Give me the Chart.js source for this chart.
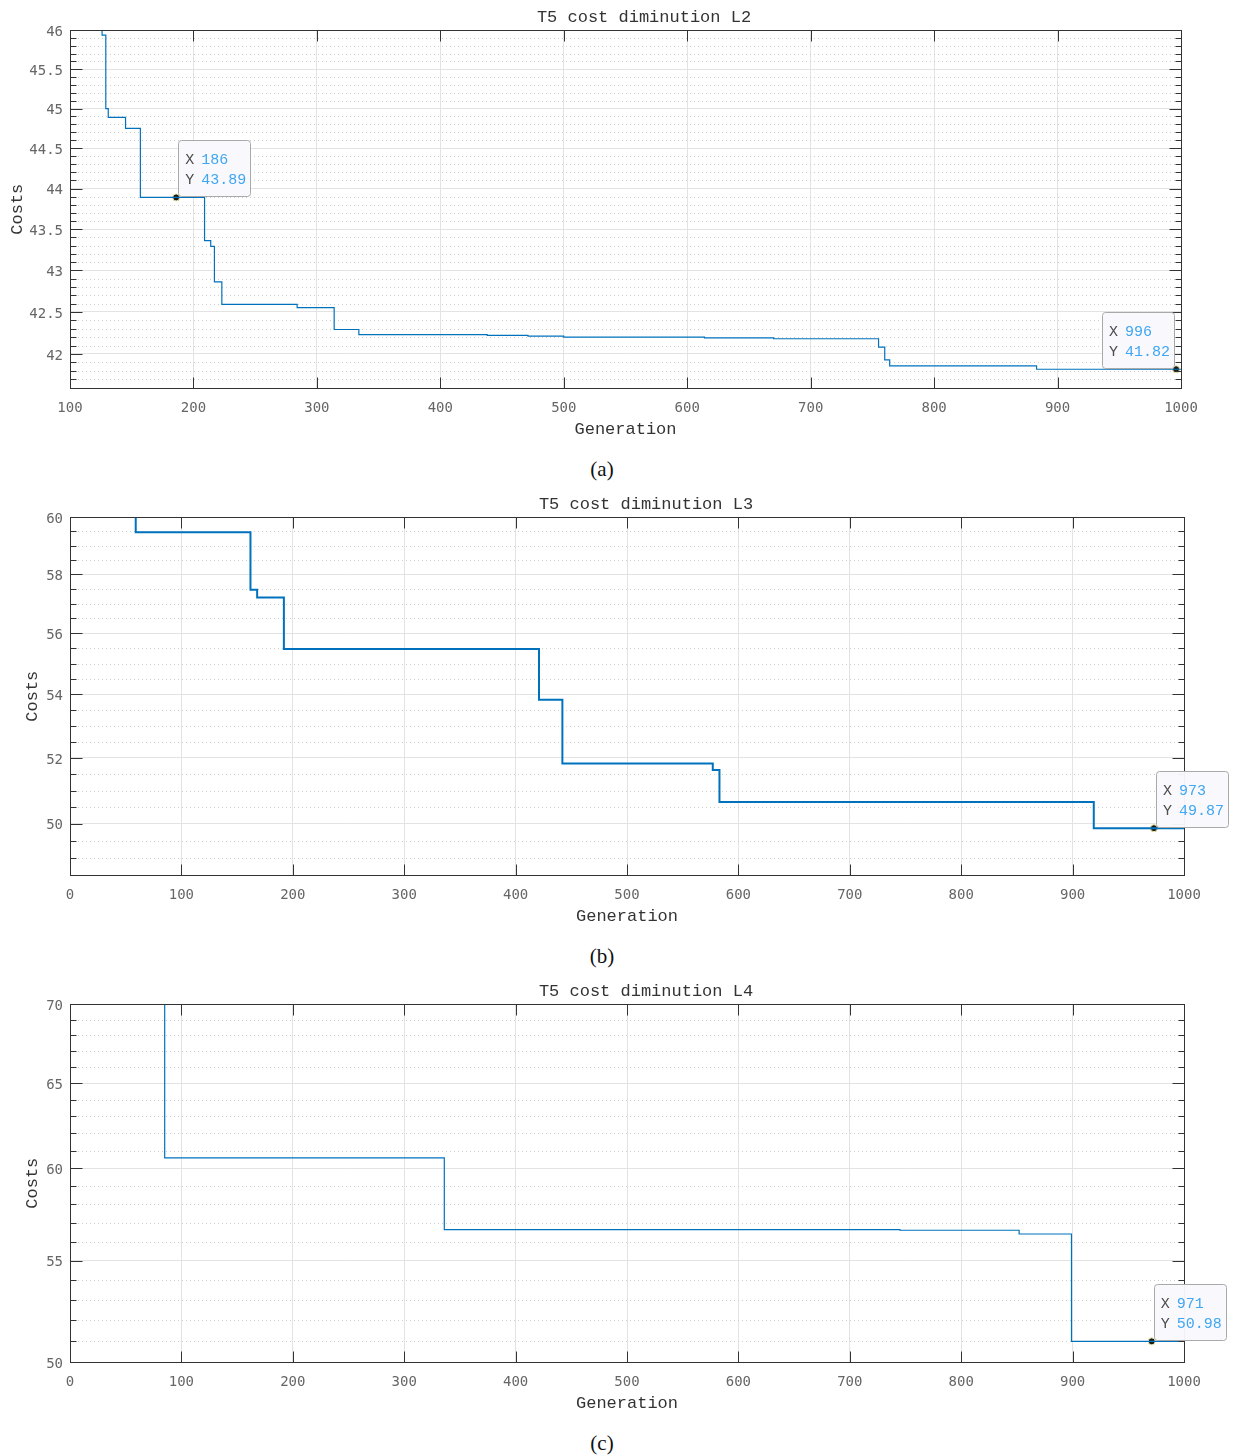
<!DOCTYPE html>
<html>
<head>
<meta charset="utf-8">
<script src="https://cdn.jsdelivr.net/npm/chart.js@4"></script>
<style>
  body { margin: 0; background: #fff; }
  #page { position: relative; width: 1233px; height: 1456px; }
  .plot { position: absolute; left: 0; width: 1233px; height: 450px; }
  .cap { position: absolute; left: 562px; width: 80px; text-align: center;
         font: 21px "Liberation Serif", "Times New Roman", serif; color: #111; line-height: 24px; }
</style>
</head>
<body>
<div id="page">
  <canvas id="chartL2" class="plot" style="top:0px" width="1233" height="450"></canvas>
  <div class="cap" style="top:457px">(a)</div>
  <canvas id="chartL3" class="plot" style="top:487px" width="1233" height="450"></canvas>
  <div class="cap" style="top:944px">(b)</div>
  <canvas id="chartL4" class="plot" style="top:974px" width="1233" height="450"></canvas>
  <div class="cap" style="top:1431px">(c)</div>
</div>
<script>
// best cost per generation (each value holds until the next change)
const genL2  = [125, 126, 129, 131, 145, 157, 209, 214, 217, 223, 284, 314, 334, 438, 471, 500, 614, 670, 755, 760, 764, 883, 1000];
const costL2 = [46.8, 45.94, 45.0, 44.89, 44.75, 43.89, 43.36, 43.29, 42.86, 42.59, 42.55, 42.29, 42.23, 42.22, 42.21, 42.20, 42.19, 42.18, 42.08, 41.93, 41.86, 41.82, 41.82];

const genL3  = [58, 59, 162, 168, 192, 421, 442, 577, 583, 919, 1000];
const costL3 = [60.5, 59.47, 57.47, 57.21, 55.48, 53.83, 51.83, 51.63, 50.65, 49.87, 49.87];

const genL4  = [84, 85, 336, 745, 852, 899, 1000];
const costL4 = [75, 60.59, 56.63, 56.60, 56.40, 50.98, 50.98];

// data tips
const tipGenL2 = [186, 996];
const tipCostL2 = [43.89, 41.82];
const tipGenL3 = [973];
const tipCostL3 = [49.87];
const tipGenL4 = [971];
const tipCostL4 = [50.98];

// tick labels
const xTicksL2 = [100, 200, 300, 400, 500, 600, 700, 800, 900, 1000];
const xTicksL3 = [0, 100, 200, 300, 400, 500, 600, 700, 800, 900, 1000];
const xTicksL4 = [0, 100, 200, 300, 400, 500, 600, 700, 800, 900, 1000];
const yTicksL2 = [42, 42.5, 43, 43.5, 44, 44.5, 45, 45.5, 46];
const yTicksL3 = [50, 52, 54, 56, 58, 60];
const yTicksL4 = [50, 55, 60, 65, 70];

function minorTicks(lo, hi, step, majors) {
  const out = [];
  for (let k = Math.ceil(lo / step - 1e-9); k * step <= hi + 1e-9; k++) {
    const v = +(k * step).toFixed(4);
    if (!majors.some(m => Math.abs(m - v) < 1e-6)) out.push(v);
  }
  return out;
}

const MONO = '"Liberation Mono", "Courier New", monospace';
const TICKFONT = '"DejaVu Sans Mono", monospace';

const frame = {
  id: 'frame',
  beforeDatasetsDraw(chart, args, o) {
    const {ctx, chartArea: a, scales: {y}} = chart;
    ctx.save();
    ctx.strokeStyle = '#cdcdcd';
    ctx.lineWidth = 1;
    ctx.setLineDash([1, 3]);
    o.minor.forEach(v => {
      const py = Math.round(y.getPixelForValue(v)) + 0.5;
      ctx.beginPath(); ctx.moveTo(a.left, py); ctx.lineTo(a.right, py); ctx.stroke();
    });
    ctx.restore();
  },
  afterDatasetsDraw(chart, args, o) {
    const {ctx, chartArea: a, scales: {x, y}} = chart;
    ctx.save();
    ctx.strokeStyle = '#333';
    ctx.lineWidth = 1;
    const L = Math.round(a.left) + 0.5, R = Math.round(a.right) + 0.5;
    const T = Math.round(a.top) + 0.5, B = Math.round(a.bottom) + 0.5;
    ctx.strokeRect(L, T, R - L, B - T);
    ctx.beginPath();
    x.ticks.forEach(t => {
      const px = Math.round(x.getPixelForValue(t.value)) + 0.5;
      ctx.moveTo(px, B); ctx.lineTo(px, B - 11);
      ctx.moveTo(px, T); ctx.lineTo(px, T + 11);
    });
    y.ticks.forEach(t => {
      const py = Math.round(y.getPixelForValue(t.value)) + 0.5;
      ctx.moveTo(L, py); ctx.lineTo(L + 12, py);
      ctx.moveTo(R, py); ctx.lineTo(R - 12, py);
    });
    o.minor.forEach(v => {
      const py = Math.round(y.getPixelForValue(v)) + 0.5;
      ctx.moveTo(L, py); ctx.lineTo(L + 6, py);
      ctx.moveTo(R, py); ctx.lineTo(R - 6, py);
    });
    ctx.stroke();
    ctx.restore();
  },
  afterDraw(chart, args, o) {
    const {ctx, scales: {x, y}} = chart;
    ctx.save();
    // title, centred a little right of the axes like the original
    ctx.font = '17px ' + MONO;
    ctx.fillStyle = '#333';
    ctx.textAlign = 'center';
    ctx.textBaseline = 'middle';
    ctx.fillText(o.title, o.titleX, 17);
    ctx.textAlign = 'left';

    ctx.font = '15px ' + MONO;
    chart.data.datasets[1].data.forEach(p => {
      const px = x.getPixelForValue(p.x), py = y.getPixelForValue(p.y);
      const xs = String(p.x), ys = p.y.toFixed(2);
      const w = 27 + ctx.measureText(xs.length > ys.length ? xs : ys).width;
      const h = 56;
      let left = px + 2;
      if (left + w > chart.width - 4) left = px - 2 - w;
      const top = py - 1 - h;
      ctx.beginPath();
      ctx.roundRect(Math.round(left) + 0.5, Math.round(top) + 0.5, Math.round(w), h, 3);
      ctx.fillStyle = 'rgba(249,249,253,0.96)';
      ctx.fill();
      ctx.strokeStyle = '#a9a9a9';
      ctx.lineWidth = 1;
      ctx.stroke();
      ctx.fillStyle = '#4d4d4d';
      ctx.fillText('X', left + 7, top + 20);
      ctx.fillText('Y', left + 7, top + 40);
      ctx.fillStyle = '#3fa6f2';
      ctx.fillText(xs, left + 23, top + 20);
      ctx.fillText(ys, left + 23, top + 40);
    });
    ctx.restore();
  }
};

function drawChart(id, c) {
  return new Chart(document.getElementById(id), {
    type: 'line',
    data: {
      datasets: [{
        data: c.gen.map((g, i) => ({x: g, y: c.cost[i]})),
        borderColor: '#0072BD',
        borderWidth: c.lw,
        stepped: 'before',
        pointRadius: 0,
        fill: false
      }, {
        data: c.tipGen.map((g, i) => ({x: g, y: c.tipCost[i]})),
        showLine: false,
        pointRadius: 3.5,
        pointBackgroundColor: '#1b1b1b',
        pointBorderColor: '#efe8a8',
        pointBorderWidth: 1,
        clip: false
      }]
    },
    options: {
      responsive: false,
      animation: false,
      devicePixelRatio: 1,
      layout: { padding: { left: 0, right: c.padRight, top: 30.4, bottom: 0 } },
      plugins: {
        legend: { display: false },
        tooltip: { enabled: false },
        title: { display: false },
        frame: { minor: c.minor, title: c.title, titleX: c.titleX }
      },
      scales: {
        x: {
          type: 'linear',
          min: c.xTicks[0],
          max: c.xTicks[c.xTicks.length - 1],
          afterBuildTicks: s => { s.ticks = c.xTicks.map(v => ({value: v})); },
          afterFit: s => { s.height = 62; },
          ticks: { color: '#666', font: { family: TICKFONT, size: 14 }, padding: 12, maxRotation: 0,
                   callback: v => String(v) },
          grid: { color: '#e3e3e3', drawTicks: false },
          border: { display: false },
          title: { display: true, text: 'Generation', color: '#333',
                   font: { family: MONO, size: 17 }, padding: { top: 0, bottom: 10 } }
        },
        y: {
          type: 'logarithmic',
          min: c.yMin,
          max: c.yMax,
          afterBuildTicks: s => { s.ticks = c.yTicks.map(v => ({value: v})); },
          afterFit: s => { s.width = 70; },
          ticks: { color: '#666', font: { family: TICKFONT, size: 14 }, padding: 7, labelOffset: 2,
                   callback: v => String(v) },
          grid: { color: '#e3e3e3', drawTicks: false },
          border: { display: false },
          title: { display: true, text: 'Costs', color: '#333',
                   font: { family: MONO, size: 17 }, padding: { top: c.yTitlePad, bottom: 0 } }
        }
      }
    },
    plugins: [frame]
  });
}

drawChart('chartL2', {
  title: 'T5 cost diminution L2', titleX: 644, gen: genL2, cost: costL2, tipGen: tipGenL2, tipCost: tipCostL2,
  xTicks: xTicksL2, yTicks: yTicksL2, yMin: 41.6, yMax: 46,
  minor: minorTicks(41.6, 46, 0.1, yTicksL2), lw: 1.2, padRight: 52, yTitlePad: 7
});
drawChart('chartL3', {
  title: 'T5 cost diminution L3', titleX: 646, gen: genL3, cost: costL3, tipGen: tipGenL3, tipCost: tipCostL3,
  xTicks: xTicksL3, yTicks: yTicksL3, yMin: 48.5, yMax: 60,
  minor: minorTicks(48.5, 60, 0.5, yTicksL3), lw: 2, padRight: 49, yTitlePad: 22
});
drawChart('chartL4', {
  title: 'T5 cost diminution L4', titleX: 646, gen: genL4, cost: costL4, tipGen: tipGenL4, tipCost: tipCostL4,
  xTicks: xTicksL4, yTicks: yTicksL4, yMin: 50, yMax: 70,
  minor: minorTicks(50, 70, 1, yTicksL4), lw: 1.2, padRight: 49, yTitlePad: 22
});
</script>
</body>
</html>
